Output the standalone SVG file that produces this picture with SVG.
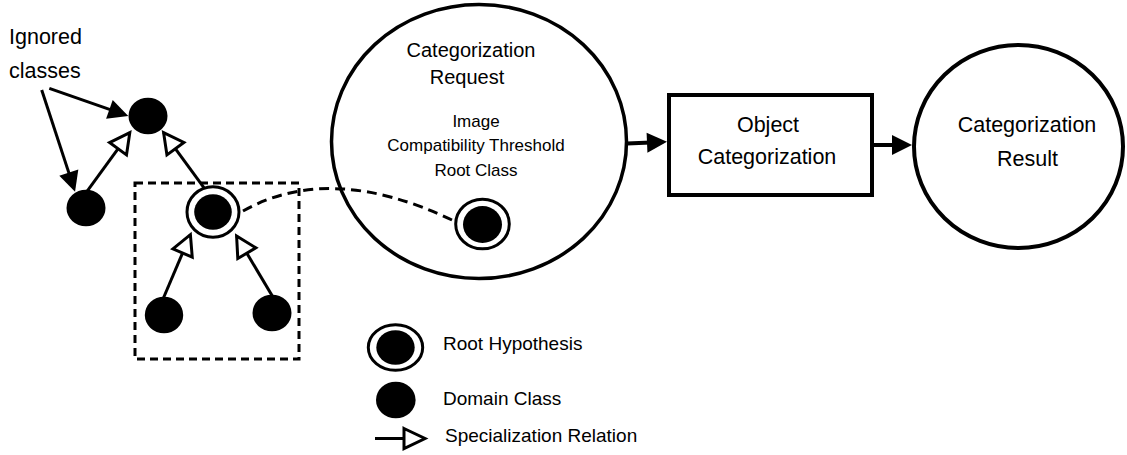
<svg xmlns="http://www.w3.org/2000/svg" width="1127" height="455" viewBox="0 0 1127 455">
<style>
text{font-family:"Liberation Sans",Arial,Helvetica,sans-serif;fill:#000}
.t22{font-size:21.5px}
.t20{font-size:20px}
.t19{font-size:19px}
.t17{font-size:17px}
.ln{stroke:#000;stroke-width:3;fill:none}
.lnw{stroke:#000;stroke-width:4;fill:none}
.dash{stroke:#000;stroke-width:3;fill:none}
.disc{fill:#000}
.ring{fill:#fff;stroke:#000;stroke-width:3}
.shape{fill:#fff;stroke:#000}
.outline{fill:none;stroke:#000}
</style>
<defs>
<marker id="filled" markerUnits="userSpaceOnUse" markerWidth="20" markerHeight="20" refX="16" refY="10" orient="auto" overflow="visible">
<path d="M0,0 L20,10 L0,20 z" fill="#000"/>
</marker>
<marker id="hollow" markerUnits="userSpaceOnUse" markerWidth="22" markerHeight="22" refX="20" refY="10.5" orient="auto" overflow="visible">
<path d="M0,0 L20,10.5 L0,21 z" fill="#fff" stroke="#000" stroke-width="3" stroke-linejoin="miter"/>
</marker>
</defs>
<rect width="1127" height="455" fill="#fff"/>

<g id="connectors">
<line class="ln" x1="49.3" y1="88.3" x2="124.5" y2="114.7" marker-end="url(#filled)"/>
<line class="ln" x1="41.7" y1="90" x2="73.8" y2="187.9" marker-end="url(#filled)"/>
<line class="ln" x1="80.8" y1="199.8" x2="129.8" y2="132.6" marker-end="url(#hollow)"/>
<line class="ln" x1="209.2" y1="194.8" x2="163.6" y2="132.6" marker-end="url(#hollow)"/>
<line class="ln" x1="159.4" y1="307.5" x2="190.4" y2="234.6" marker-end="url(#hollow)"/>
<line class="ln" x1="276.8" y1="303.6" x2="236.6" y2="236" marker-end="url(#hollow)"/>
<path class="dash" d="M243,211 Q330,162 452,220" stroke-dasharray="10 6"/>
<line class="lnw" x1="627" y1="143.5" x2="663" y2="142" marker-end="url(#filled)"/>
<line class="lnw" x1="872" y1="145" x2="908" y2="145" marker-end="url(#filled)"/>
</g>

<g id="ignored-label">
<text class="t22" x="9" y="44">Ignored</text>
<text class="t22" x="9" y="78">classes</text>
</g>

<g id="top-class"><ellipse class="disc" cx="148" cy="116" rx="19.5" ry="18.3"/></g>
<g id="left-class"><ellipse class="disc" cx="86" cy="208" rx="19.5" ry="18.3"/></g>
<g id="root-hypothesis">
<ellipse class="ring" cx="213" cy="212" rx="26" ry="25.2"/>
<ellipse class="disc" cx="213" cy="212" rx="18.8" ry="17.8"/>
</g>
<g id="bottom-left-class"><ellipse class="disc" cx="164" cy="315" rx="19.2" ry="18.3"/></g>
<g id="bottom-right-class"><ellipse class="disc" cx="272" cy="313" rx="19.5" ry="18.3"/></g>
<g id="root-box"><rect class="dash" x="135" y="183" width="164" height="176" stroke-dasharray="8 5"/></g>

<g id="categorization-request">
<ellipse class="outline" cx="479" cy="141.5" rx="147.5" ry="137" stroke-width="3.5"/>
<text class="t20" x="471" y="56.5" text-anchor="middle">Categorization</text>
<text class="t20" x="467" y="84" text-anchor="middle">Request</text>
<text class="t17" x="476" y="126.7" text-anchor="middle">Image</text>
<text class="t17" x="476" y="150.7" text-anchor="middle">Compatibility Threshold</text>
<text class="t17" x="476" y="175.7" text-anchor="middle">Root Class</text>
<g id="request-root">
<ellipse class="ring" cx="482.5" cy="224" rx="26.8" ry="24.8"/>
<ellipse class="disc" cx="482.5" cy="224.5" rx="19.5" ry="18.5"/>
</g>
</g>

<g id="object-categorization">
<rect class="shape" x="669" y="95" width="203" height="100" stroke-width="4"/>
<text class="t22" x="768" y="131.5" text-anchor="middle">Object</text>
<text class="t22" x="767" y="163.5" text-anchor="middle">Categorization</text>
</g>

<g id="categorization-result">
<ellipse class="shape" cx="1018.5" cy="146.5" rx="104.5" ry="101.5" stroke-width="4"/>
<text class="t22" x="1027" y="131.7" text-anchor="middle">Categorization</text>
<text class="t22" x="1027.5" y="166" text-anchor="middle">Result</text>
</g>

<g id="legend">
<ellipse class="ring" cx="395.5" cy="347.5" rx="27.2" ry="22.8"/>
<ellipse class="disc" cx="395.5" cy="347.5" rx="19.2" ry="17.2"/>
<text class="t19" x="443" y="350">Root Hypothesis</text>
<ellipse class="disc" cx="395.8" cy="400" rx="19.8" ry="18.3"/>
<text class="t19" x="443" y="405">Domain Class</text>
<line class="ln" x1="375" y1="438.5" x2="405" y2="438.5"/>
<polygon points="404,428.5 425,438.5 404,448.5" fill="#fff" stroke="#000" stroke-width="3"/>
<text class="t19" x="445" y="442">Specialization Relation</text>
</g>
</svg>
